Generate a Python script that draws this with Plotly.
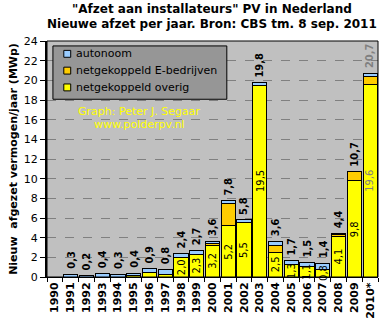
import plotly.graph_objects as go

years = ["1990", "1991", "1992", "1993", "1994", "1995", "1996", "1997", "1998", "1999",
         "2000", "2001", "2002", "2003", "2004", "2005", "2006", "2007", "2008", "2009", "2010*"]
overig = [0, 0, 0, 0, 0, 0.2, 0.5, 0.3, 2.0, 2.3, 3.2, 5.2, 5.5, 19.5, 2.5, 1.3, 1.1, 0.8, 4.1, 9.8, 19.6]
ebedrijven = [0, 0, 0, 0, 0, 0, 0, 0, 0, 0, 0.2, 2.3, 0, 0, 0.7, 0, 0, 0, 0.2, 0.9, 0.8]
autonoom = [0, 0.3, 0.2, 0.4, 0.3, 0.2, 0.4, 0.5, 0.4, 0.4, 0.2, 0.3, 0.3, 0.3, 0.4, 0.4, 0.4, 0.6, 0.1, 0, 0.3]
y_ticks = list(range(0, 25, 2))

C_YEL = "#FFFF00"
C_ORA = "#FFCC00"
C_BLU = "#99CCFF"
C_GRAY_TXT = "#808080"
LBL_FONT = "Liberation Sans Narrow, DejaVu Sans Condensed, Arial Narrow, sans-serif"
MAIN_FONT = "DejaVu Sans, Verdana, sans-serif"

xpos = list(range(len(years)))


def nz(v):
    return [x if x > 0 else None for x in v]


def nl(v):
    return f"{v:.1f}".replace(".", ",")


fig = go.Figure()
for name, vals, col in [("netgekoppeld overig", overig, C_YEL),
                        ("netgekoppeld E-bedrijven", ebedrijven, C_ORA),
                        ("autonoom", autonoom, C_BLU)]:
    fig.add_trace(go.Bar(x=xpos, y=nz(vals), name=name, showlegend=False,
                         marker=dict(color=col, line=dict(color="black", width=1)),
                         customdata=years, hovertemplate="%{customdata}: %{y}<extra>" + name + "</extra>"))

annotations = []
for i, yr in enumerate(years):
    total = round(overig[i] + ebedrijven[i] + autonoom[i], 1)
    col = C_GRAY_TXT if yr.endswith("*") else "black"
    if total > 0:
        annotations.append(dict(x=i, y=total, xref="x", yref="y", text="<b>" + nl(total) + "</b>",
                                textangle=-90, showarrow=False, yanchor="bottom", xanchor="center",
                                yshift=3, font=dict(family=LBL_FONT, size=11, color=col)))
    if overig[i] >= 0.8:
        annotations.append(dict(x=i, y=overig[i] / 2, xref="x", yref="y", text=nl(overig[i]),
                                textangle=-90, showarrow=False, yanchor="middle", xanchor="center",
                                font=dict(family=LBL_FONT, size=11, color=col)))


def px_x(p):
    return (p - 43) / 335.0


def px_y(p):
    return (280 - p) / 239.0


# titles
annotations.append(dict(x=px_x(210), y=px_y(9), xref="paper", yref="paper", showarrow=False,
                        text="<b>\"Afzet aan installateurs\" PV in Nederland</b>",
                        xanchor="center", yanchor="middle",
                        font=dict(family=MAIN_FONT, size=12, color="black")))
annotations.append(dict(x=px_x(210), y=px_y(24), xref="paper", yref="paper", showarrow=False,
                        text="<b>Nieuwe afzet per jaar. Bron: CBS tm. 8 sep. 2011</b>",
                        xanchor="center", yanchor="middle",
                        font=dict(family=MAIN_FONT, size=12, color="black")))

shapes = []
shapes.append(dict(type="rect", xref="paper", yref="paper", x0=px_x(49), x1=px_x(225),
                   y0=px_y(100), y1=px_y(46), fillcolor="#969696", line=dict(color="black", width=1)))
leg_items = [("autonoom", C_BLU, 54), ("netgekoppeld E-bedrijven", C_ORA, 71), ("netgekoppeld overig", C_YEL, 88)]
for name, col, py in leg_items:
    shapes.append(dict(type="rect", xref="paper", yref="paper", x0=px_x(60), x1=px_x(67),
                       y0=px_y(py + 3.5), y1=px_y(py - 3.5), fillcolor=col, line=dict(color="black", width=1)))
    annotations.append(dict(x=px_x(70), y=px_y(py), xref="paper", yref="paper", text=name,
                            showarrow=False, xanchor="left", yanchor="middle",
                            font=dict(family=MAIN_FONT, size=11, color="black")))

annotations.append(dict(x=px_x(137), y=px_y(112), xref="paper", yref="paper", text="Graph: Peter J. Segaar",
                        showarrow=False, xanchor="center", yanchor="middle",
                        font=dict(family=MAIN_FONT, size=11, color="#FFFF00")))
annotations.append(dict(x=px_x(137), y=px_y(126), xref="paper", yref="paper", text="www.polderpv.nl",
                        showarrow=False, xanchor="center", yanchor="middle",
                        font=dict(family=MAIN_FONT, size=11, color="#FFFF00")))

shapes.append(dict(type="rect", xref="paper", yref="paper", x0=0, x1=1, y0=0, y1=1,
                   line=dict(color="black", width=1), fillcolor="rgba(0,0,0,0)", layer="above"))

fig.update_layout(
    width=391, height=331,
    margin=dict(l=43, r=13, t=41, b=51),
    paper_bgcolor="white", plot_bgcolor="#C0C0C0",
    barmode="stack", bargap=0.1,
    annotations=annotations,
    shapes=shapes,
    font=dict(family=MAIN_FONT, size=11, color="black"),
    xaxis=dict(range=[-0.5, len(years) - 0.5], tickvals=xpos, ticktext=years, tickangle=-90,
               tickfont=dict(family=MAIN_FONT, size=11, color="black", weight="bold"),
               showline=True, linecolor="black", linewidth=1, ticks="", showgrid=False,
               zeroline=False, fixedrange=True,
               minor=dict(tickvals=[i - 0.5 for i in range(len(years) + 1)], ticks="outside",
                          ticklen=4, tickcolor="black", showgrid=False)),
    yaxis=dict(range=[0, 24], tickvals=y_ticks, ticks="outside", ticklen=5, tickcolor="black",
               showline=True, linecolor="black", linewidth=2, showgrid=True, gridcolor="#808080",
               griddash="dash", gridwidth=1, zeroline=False, fixedrange=True,
               tickfont=dict(family=MAIN_FONT, size=11, color="black"),
               title=dict(text="<b>Nieuw  afgezet vermogen/jaar (MWp)</b>", standoff=4,
                          font=dict(family=MAIN_FONT, size=11, color="black"))),
)

fig.write_html("out.html")
